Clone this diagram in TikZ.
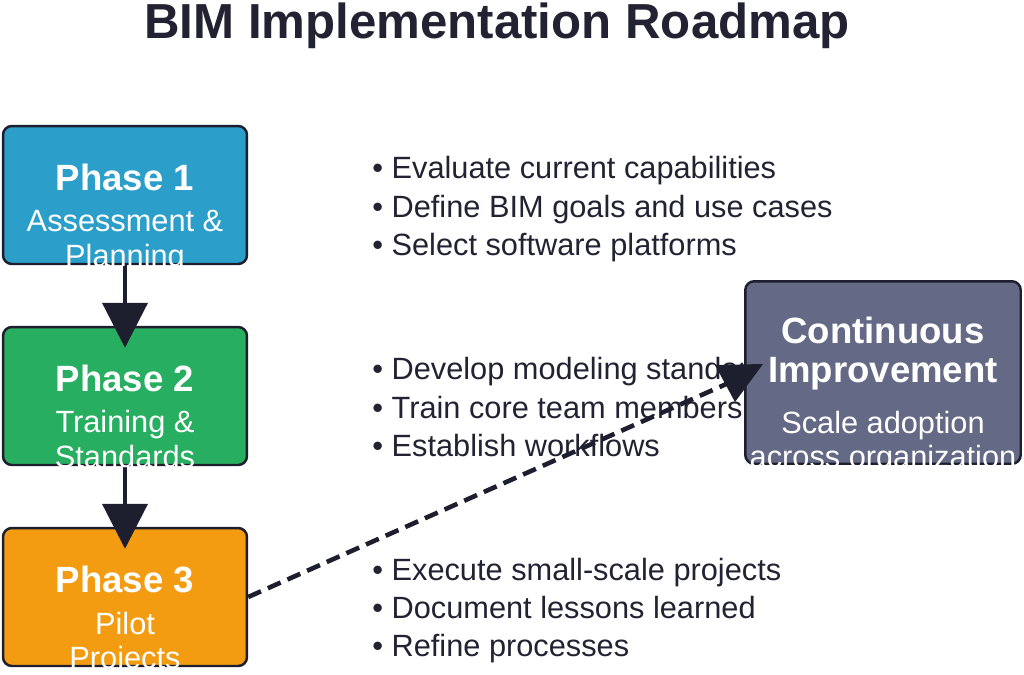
\documentclass[tikz,border=0pt]{standalone}
\usepackage{fontspec}
\setmainfont{Liberation Sans}
\usetikzlibrary{arrows.meta, positioning}
\definecolor{bimBlue}{HTML}{2B9FCA}
\definecolor{bimGreen}{HTML}{28AE60}
\definecolor{bimOrange}{HTML}{F39C12}
\definecolor{bimSlate}{HTML}{646A86}
\definecolor{bimDark}{HTML}{1E1F2E}
\definecolor{textDark}{HTML}{222233}

\begin{document}
\begin{tikzpicture}[x=0.02cm, y=-0.02cm,
    fase/.style={rectangle, rounded corners=5pt, draw=bimDark, line width=1.4pt,
      minimum width=4.88cm, minimum height=2.76cm, inner sep=0pt},
    meta/.style={fase, minimum width=5.51cm, minimum height=3.65cm},
    head/.style={anchor=base, inner sep=0pt, text=white,
      font=\fontsize{20.8}{24}\selectfont\bfseries},
    sub/.style={anchor=base, inner sep=0pt, text=white,
      font=\fontsize{17.5}{21}\selectfont},
    punto/.style={anchor=base west, inner sep=0pt, text=textDark,
      font=\fontsize{17.5}{21}\selectfont},
    ar/.style={-{Triangle[length=0.9cm, width=0.9cm]}, line width=2.3pt, bimDark}]
    \useasboundingbox (0,0) rectangle (1024,674);
    \node[anchor=base, inner sep=0pt, text=textDark,
      font=\fontsize{28}{32}\selectfont\bfseries] (titulo) at (497,38) {BIM Implementation Roadmap};
    % listas
    \node[punto] (l1) at (372,178) {• Evaluate current capabilities};
    \node[punto] (l2) at (372,217) {• Define BIM goals and use cases};
    \node[punto] (l3) at (372,255) {• Select software platforms};
    \node[punto] (l4) at (372,379) {• Develop modeling standards};
    \node[punto] (l5) at (372,418) {• Train core team members};
    \node[punto] (l6) at (372,456) {• Establish workflows};
    \node[punto] (l7) at (372,580) {• Execute small-scale projects};
    \node[punto] (l8) at (372,618) {• Document lessons learned};
    \node[punto] (l9) at (372,656) {• Refine processes};
    % fases
    \node[fase, fill=bimBlue] (p1) at (125,195) {};
    \node[fase, fill=bimGreen] (p2) at (125,396) {};
    \node[fase, fill=bimOrange] (p3) at (125,597) {};
    \node[meta, fill=bimSlate] (ci) at (883,372.5) {};
    \draw[ar] (p1.south) -- ([yshift=-0.44cm]p2.north);
    \draw[ar] (p2.south) -- ([yshift=-0.44cm]p3.north);
    \coordinate (punta) at (733,381);
    \draw[bimDark, line width=2.6pt, dash pattern=on 0.28cm off 0.15cm] (p3.east) -- (punta);
    \fill[bimDark] (715,365) -- (763,364) -- (735,402) -- cycle;
    % textos de las cajas
    \node[head] (p1a) at (125,190) {Phase 1};
    \node[sub] (p1b) at (125,231) {Assessment \&};
    \node[sub] (p1c) at (125,266) {Planning};
    \node[head] (p2a) at (125,391) {Phase 2};
    \node[sub] (p2b) at (125,432) {Training \&};
    \node[sub] (p2c) at (125,467) {Standards};
    \node[head] (p3a) at (125,592) {Phase 3};
    \node[sub] (p3b) at (125,634) {Pilot};
    \node[sub] (p3c) at (125,668) {Projects};
    \node[head] (cia) at (883,343) {Continuous};
    \node[head] (cib) at (883,382) {Improvement};
    \node[sub] (cic) at (883,433) {Scale adoption};
    \node[sub] (cid) at (883,467) {across organization};
  \end{tikzpicture}
\end{document}
